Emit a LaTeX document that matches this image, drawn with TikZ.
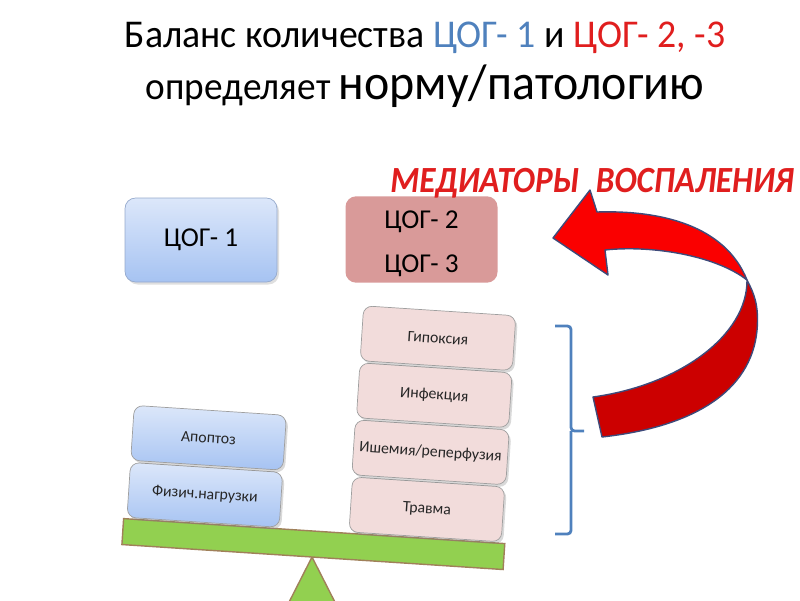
\documentclass[tikz,border=0pt]{standalone}
\usepackage{fontspec}
\setmainfont{Carlito}
\usetikzlibrary{positioning,shadows}
\definecolor{cogblue}{HTML}{4F81BD}
\definecolor{cogred}{HTML}{E01E1E}
\definecolor{pinkbox}{HTML}{F2DCDB}
\definecolor{rosebox}{HTML}{D99A99}
\definecolor{bluetop}{HTML}{DCE7FA}
\definecolor{bluebot}{HTML}{A6C3F2}
\definecolor{blueedge}{HTML}{95A9CC}
\definecolor{beamgreen}{HTML}{92D050}
\definecolor{beamedge}{HTML}{A0805A}
\definecolor{headred}{HTML}{FA0000}
\definecolor{tailred}{HTML}{CC0000}
\definecolor{arrowedge}{HTML}{3E4A7A}

\begin{document}
\begin{tikzpicture}[
    factor/.style={rectangle, rounded corners=5pt, draw=gray!75, transform shape,
      minimum width=3.05cm, minimum height=1.1cm, text=black!85,
      font=\fontsize{9}{11}\selectfont,
      drop shadow={opacity=0.3, shadow xshift=0.04cm, shadow yshift=-0.05cm}},
    harm/.style={factor, fill=pinkbox},
    guard/.style={factor, top color=bluetop, bottom color=bluebot},
    cog/.style={rectangle, rounded corners=6pt, minimum width=3.04cm,
      minimum height=1.68cm, font=\fontsize{15.5}{25}\selectfont},
    heading/.style={anchor=base, transform shape, xscale=0.96},
    beam/.style={fill=beamgreen, draw=beamedge, line width=0.8pt},
    brace/.style={draw=cogblue, line width=1.6pt, rounded corners=2pt},
    ribbon/.style={draw=arrowedge, line width=0.8pt, line join=round}
  ]
  \useasboundingbox (0,0) rectangle (16,12);
  \clip (0,0) rectangle (16,12);

  \node[heading] (line1) at (8.5,11.05) {\fontsize{22.4}{27}\selectfont Баланс количества \textcolor{cogblue}{ЦОГ- 1} и \textcolor{cogred}{ЦОГ- 2, -3}};
  \node[heading] (line2) at (8.5,10.0) {\fontsize{22.1}{27}\selectfont определяет \fontsize{28.4}{34}\selectfont норму/патологию};

  \node[cog, top color=bluetop, bottom color=bluebot, draw=blueedge,
    drop shadow={opacity=0.25, shadow xshift=0.04cm, shadow yshift=-0.05cm}] (cox1) at (4.02,7.2) {ЦОГ- 1};
  \node[cog, fill=rosebox, align=center] (cox23) at (8.43,7.21) {\rule{0pt}{0.53cm}ЦОГ- 2\\ЦОГ- 3};

  \node[anchor=base west, inner sep=0pt, text=cogred, transform shape, xscale=0.9,
    font=\fontsize{21}{24}\bfseries\itshape] (mediators) at (7.8,8.15) {МЕДИАТОРЫ\enspace ВОСПАЛЕНИЯ};

  \draw[beam] (6.24,0.86) -- (5.65,-0.3) -- (6.83,-0.3) -- cycle;
  \begin{scope}[rotate around={-3.75:(6.24,0.86)}]
    \draw[beam] (2.43,0.86) rectangle (10.07,1.38);
    \node[guard] (physical) at (4.02,1.96) {Физич.нагрузки};
    \node[guard, above=0.03cm of physical] (apoptosis) {Апоптоз};
    \node[harm] (trauma) at (8.47,1.96) {Травма};
    \node[harm, above=0.03cm of trauma] (ischemia) {Ишемия/реперфузия};
    \node[harm, above=0.03cm of ischemia] (infection) {Инфекция};
    \node[harm, above=0.03cm of infection] (hypoxia) {Гипоксия};
  \end{scope}

  \draw[brace] (11.1,5.48) -- (11.42,5.48) -- (11.42,3.38) -- (11.68,3.38)
    (11.42,3.38) -- (11.42,1.32) -- (11.1,1.32);

  \filldraw[ribbon, fill=tailred] (14.94,6.4) .. controls (15.1,6.1) and (15.15,5.9) .. (15.15,5.6)
    .. controls (15.15,4.4) and (14.2,3.5) .. (12.04,3.26) -- (11.86,4.06)
    .. controls (13.6,4.3) and (14.95,5.3) .. (14.94,6.4) -- cycle;
  \filldraw[ribbon, fill=headred] (11.94,7.76) .. controls (13.2,7.8) and (14.5,7.5) .. (14.94,6.4)
    .. controls (14.3,6.9) and (13.0,7.1) .. (12.1,7.0) -- (12.16,6.5) -- (11.06,7.24) -- (11.8,8.2) -- cycle;
\end{tikzpicture}
\end{document}
